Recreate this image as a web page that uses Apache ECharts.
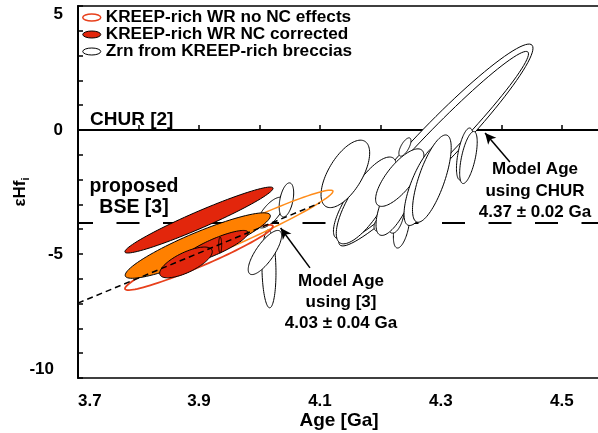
<!DOCTYPE html>
<html>
<head>
<meta charset="utf-8">
<script src="https://cdn.jsdelivr.net/npm/echarts@6/dist/echarts.min.js"></script>
<style>
  html, body { margin: 0; padding: 0; background: #fff; }
  #chart { width: 598px; height: 433px; }
</style>
</head>
<body>
<div id="chart"></div>
<script>
// axis ranges / tick labels
const ageMin = 3.7;
const ageMax = 4.563;
const hfMin = -10;
const hfMax = 5;

// reference lines
const churHf = 0;
const bseHf = -3.75;
const evoAge = [3.7, 4.1];
const evoHf = [-6.98, -2.94];

// zircon error ellipses: centre, 2s half widths, correlation
const zrnAge    = [4.2917, 4.295, 4.163, 4.177, 4.235, 4.2256, 4.196, 4.2256, 4.232, 4.272, 4.285, 4.3397, 4.3455, 4.2405, 4.142, 4.0157, 4.009, 4.019, 4.0446];
const zrnHf     = [-0.605, -0.605, -2.94, -2.84, -3.89, -3.39, -3.83, -2.82, -1.92, -2.22, -1.96, -0.97, -1.11, -0.686, -1.77, -5.60, -4.94, -3.33, -2.82];
const zrnSigAge = [0.1605, 0.1498, 0.0407, 0.050, 0.0136, 0.0145, 0.0066, 0.0329, 0.040, 0.033, 0.032, 0.014, 0.0145, 0.010, 0.0402, 0.0116, 0.0276, 0.0223, 0.0120];
const zrnSigHf  = [4.07, 3.774, 1.44, 1.75, 0.87, 0.77, 0.24, 1.43, 1.16, 1.63, 1.76, 1.05, 1.05, 0.37, 1.36, 1.57, 0.89, 0.62, 0.688];
const zrnRho    = [0.959, 0.974, 0.79, 0.76, 0.49, 0.38, 0.3, 0.70, 0.75, 0.72, 0.71, 0.55, 0.6, 0.68, 0.62, -0.1, 0.77, 0.69, 0.41];

// whole rock, no neutron capture correction
const redRawAge = [3.900], redRawHf = [-5.14], redRawSigAge = [0.1223], redRawSigHf = [1.315], redRawRho = [0.954];
const orgRawAge = [3.9785], orgRawHf = [-4.05], orgRawSigAge = [0.143], orgRawSigHf = [1.625], orgRawRho = [0.970];

// whole rock, NC corrected
const orgCorAge = [3.898], orgCorHf = [-4.66], orgCorSigAge = [0.120], orgCorSigHf = [1.32], orgCorRho = [0.906];
const redCorAge    = [3.900, 3.925, 3.8785, 3.935];
const redCorHf     = [-3.63, -4.72, -5.34, -4.64];
const redCorSigAge = [0.1225, 0.0564, 0.0435, 0.0025];
const redCorSigHf  = [1.33, 0.67, 0.62, 0.32];
const redCorRho    = [0.961, 0.857, 0.70, 0];

// model age arrows [from, to]
const arrowBse = [[4.0835, -5.56], [4.035, -3.95]];
const arrowChur = [[4.414, -1.29], [4.373, -0.12]];

const FONT = '"Liberation Sans", Arial, sans-serif';
const RED = '#e2260c';
const ORANGE = '#ff8000';
const RED_LINE = '#e8401c';
const ORANGE_LINE = '#ff8c1a';

const zip = (a, h, sa, sh, r) => a.map((v, i) => [v, h[i], sa[i], sh[i], r[i]]);

// polygon of a correlated error ellipse, built in data space then mapped by the axes
const ellipseItem = (fill, stroke, lineWidth) => (params, api) => {
    const cx = api.value(0), cy = api.value(1);
    const sa = api.value(2), sh = api.value(3), r = api.value(4);
    const q = Math.sqrt(Math.max(0, 1 - r * r));
    const pts = [];
    for (let k = 0; k < 96; k++) {
        const t = 2 * Math.PI * k / 96;
        pts.push(api.coord([cx + sa * Math.cos(t), cy + sh * (r * Math.cos(t) + q * Math.sin(t))]));
    }
    return { type: 'polygon', shape: { points: pts }, style: { fill: fill, stroke: stroke, lineWidth: lineWidth } };
};

const ellipsePath = 'path://M0,3.5A9,3.5,0,1,1,18,3.5A9,3.5,0,1,1,0,3.5Z';

const chart = echarts.init(document.getElementById('chart'));
const option = {
    animation: false,
    grid: {
        left: 78, top: 6, right: -2, bottom: 55,
        containLabel: false, outerBoundsMode: 'none',
        show: true, borderColor: '#000', borderWidth: 1.5
    },
    legend: {
        orient: 'vertical',
        left: 82,
        top: 9,
        padding: 0,
        itemGap: 0,
        itemWidth: 18,
        itemHeight: 7,
        symbolKeepAspect: false,
        textStyle: { fontFamily: FONT, fontWeight: 'bold', fontSize: 17.2, color: '#000', lineHeight: 16 },
        data: [
            { name: 'KREEP-rich WR no NC effects', icon: ellipsePath, itemStyle: { color: '#fff', borderColor: RED_LINE, borderWidth: 1.5 } },
            { name: 'KREEP-rich WR NC corrected', icon: ellipsePath, itemStyle: { color: RED, borderColor: '#000', borderWidth: 1 } },
            { name: 'Zrn from KREEP-rich breccias', icon: ellipsePath, itemStyle: { color: '#fff', borderColor: '#000', borderWidth: 1 } }
        ]
    },
    xAxis: {
        type: 'value',
        min: ageMin,
        max: ageMax,
        interval: 0.1,
        name: 'Age [Ga]',
        nameLocation: 'middle',
        nameGap: 33,
        nameMoveOverlap: false,
        nameTextStyle: { fontFamily: FONT, fontWeight: 'bold', fontSize: 19, color: '#000' },
        axisLine: { lineStyle: { color: '#000', width: 2 } },
        axisTick: { inside: true, length: 5, lineStyle: { color: '#000', width: 1.5 } },
        splitLine: { show: false },
        axisLabel: {
            margin: 15,
            alignMinLabel: 'left',
            fontFamily: FONT, fontWeight: 'bold', fontSize: 17, color: '#000',
            formatter: (v) => {
                const k = Math.round(v * 10);
                if (Math.abs(v * 10 - k) > 1e-6) return '';
                return k % 2 === 1 ? v.toFixed(1) : '';
            }
        }
    },
    yAxis: {
        type: 'value',
        min: hfMin,
        max: hfMax,
        interval: 1,
        name: '{a|εHf}{b|i}',
        nameLocation: 'middle',
        nameRotate: 90,
        nameGap: 47,
        nameMoveOverlap: false,
        nameTextStyle: {
            rich: {
                a: { fontFamily: FONT, fontWeight: 'bold', fontSize: 17, color: '#000', lineHeight: 22 },
                b: { fontFamily: FONT, fontWeight: 'bold', fontSize: 11, color: '#000', lineHeight: 11, verticalAlign: 'bottom' }
            }
        },
        axisLine: { lineStyle: { color: '#000', width: 2 } },
        axisTick: { inside: true, length: 5, lineStyle: { color: '#000', width: 1.5 } },
        splitLine: { show: false },
        axisLabel: {
            margin: 15,
            verticalAlignMaxLabel: 'top',
            verticalAlignMinLabel: 'bottom',
            fontFamily: FONT, fontWeight: 'bold', fontSize: 17, color: '#000',
            formatter: (v) => {
                if (v % 5 !== 0) return '';
                if (v === hfMin) return '{p|' + v + '}';
                return String(v);
            },
            rich: { p: { fontFamily: FONT, fontWeight: 'bold', fontSize: 17, color: '#000', padding: [0, 9, 0, 0] } }
        }
    },
    series: [
        {
            name: 'CHUR',
            type: 'line',
            z: 1,
            symbol: 'none',
            silent: true,
            data: [[ageMin, churHf], [ageMax, churHf]],
            lineStyle: { color: '#000', width: 2 }
        },
        {
            name: 'BSE',
            type: 'line',
            z: 1,
            symbol: 'none',
            silent: true,
            data: [[ageMin, bseHf], [ageMax, bseHf]],
            lineStyle: { color: '#000', width: 2, type: [23, 23.5], dashOffset: 8 }
        },
        {
            name: 'Zrn from KREEP-rich breccias',
            type: 'custom',
            z: 2,
            encode: { x: 0, y: 1 },
            itemStyle: { color: '#fff', borderColor: '#000', borderWidth: 1 },
            renderItem: ellipseItem('#fff', '#000', 1),
            data: zip(zrnAge, zrnHf, zrnSigAge, zrnSigHf, zrnRho)
        },
        {
            name: 'orange WR raw',
            type: 'custom',
            z: 3,
            encode: { x: 0, y: 1 },
            renderItem: ellipseItem('none', ORANGE_LINE, 1.5),
            data: zip(orgRawAge, orgRawHf, orgRawSigAge, orgRawSigHf, orgRawRho)
        },
        {
            name: 'KREEP-rich WR no NC effects',
            type: 'custom',
            z: 3,
            encode: { x: 0, y: 1 },
            itemStyle: { color: '#fff', borderColor: RED_LINE, borderWidth: 1.5 },
            renderItem: ellipseItem('none', RED_LINE, 1.8),
            data: zip(redRawAge, redRawHf, redRawSigAge, redRawSigHf, redRawRho)
        },
        {
            name: 'orange WR corrected',
            type: 'custom',
            z: 4,
            encode: { x: 0, y: 1 },
            renderItem: ellipseItem(ORANGE, '#000', 1),
            data: zip(orgCorAge, orgCorHf, orgCorSigAge, orgCorSigHf, orgCorRho)
        },
        {
            name: 'KREEP-rich WR NC corrected',
            type: 'custom',
            z: 4,
            encode: { x: 0, y: 1 },
            itemStyle: { color: RED, borderColor: '#000', borderWidth: 1 },
            renderItem: ellipseItem(RED, '#000', 1),
            data: zip(redCorAge, redCorHf, redCorSigAge, redCorSigHf, redCorRho)
        },
        {
            name: 'KREEP evolution',
            type: 'line',
            z: 5,
            symbol: 'none',
            silent: true,
            data: evoAge.map((a, i) => [a, evoHf[i]]),
            lineStyle: { color: '#000', width: 1.5, type: [6, 4] },
            markLine: {
                silent: true,
                symbol: ['none', 'arrow'],
                symbolSize: [8, 11],
                label: { show: false },
                lineStyle: { color: '#000', width: 1.5, type: 'solid' },
                data: [
                    [{ coord: arrowBse[0] }, { coord: arrowBse[1] }],
                    [{ coord: arrowChur[0] }, { coord: arrowChur[1] }]
                ]
            }
        }
    ],
    graphic: [
        { type: 'text', z: 10, style: { text: 'CHUR [2]', x: 90, y: 120, textAlign: 'left', textVerticalAlign: 'middle', font: 'bold 19px ' + FONT, fill: '#000' } },
        { type: 'text', z: 10, style: { text: 'proposed\nBSE [3]', x: 134, y: 176, textAlign: 'center', textVerticalAlign: 'top', lineHeight: 21, font: 'bold 19.5px ' + FONT, fill: '#000' } },
        { type: 'text', z: 10, style: { text: 'Model Age\nusing [3]\n4.03 ± 0.04 Ga', x: 341, y: 271, textAlign: 'center', textVerticalAlign: 'top', lineHeight: 21, font: 'bold 17px ' + FONT, fill: '#000' } },
        { type: 'text', z: 10, style: { text: 'Model Age\nusing CHUR\n4.37 ± 0.02 Ga', x: 535, y: 159, textAlign: 'center', textVerticalAlign: 'top', lineHeight: 21.5, font: 'bold 17px ' + FONT, fill: '#000' } }
    ]
};
chart.setOption(option);
</script>
</body>
</html>
